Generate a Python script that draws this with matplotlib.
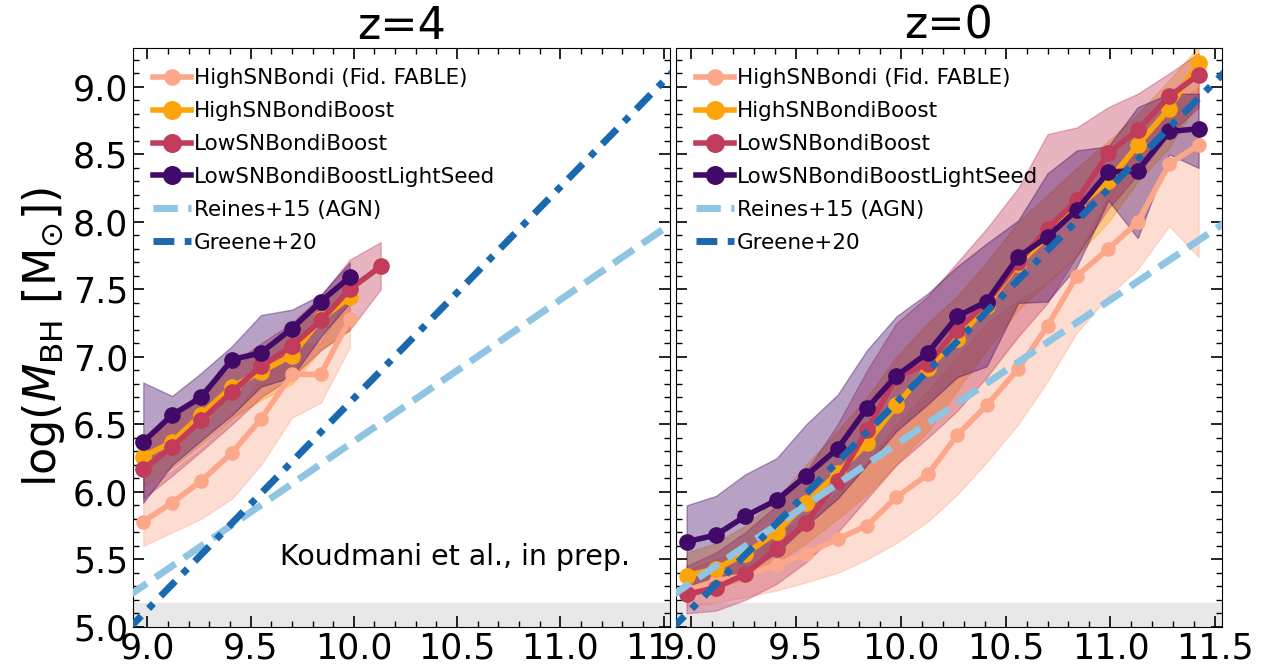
import matplotlib
matplotlib.use("Agg")
import matplotlib.pyplot as plt
from matplotlib.ticker import MultipleLocator
from matplotlib.transforms import Bbox, TransformedBbox

# stellar mass bins (log M*)
x_z4 = [8.98, 9.12, 9.26, 9.41, 9.55, 9.70, 9.84, 9.98, 10.13]
x_z0 = [8.98, 9.12, 9.26, 9.41, 9.55, 9.70, 9.84, 9.98, 10.13,
        10.27, 10.41, 10.56, 10.70, 10.84, 10.99, 11.13, 11.28, 11.42]

labels = ["HighSNBondi (Fid. FABLE)", "HighSNBondiBoost",
          "LowSNBondiBoost", "LowSNBondiBoostLightSeed"]
colors = ["#fca68a", "#fca50a", "#c13b5b", "#420a68"]

# z=4 : median and 16-84 band
fid_z4 = [5.78, 5.92, 6.08, 6.29, 6.54, 6.87, 6.87, 7.28]
fid_z4_lo = [5.60, 5.70, 5.80, 5.95, 6.20, 6.55, 6.66, 7.07]
fid_z4_hi = [6.05, 6.15, 6.32, 6.55, 6.85, 7.10, 7.10, 7.50]
hboost_z4 = [6.26, 6.37, 6.57, 6.78, 6.89, 7.01, 7.28, 7.44]
hboost_z4_lo = [6.05, 6.18, 6.35, 6.55, 6.68, 6.80, 7.05, 7.20]
hboost_z4_hi = [6.40, 6.55, 6.72, 6.92, 7.05, 7.18, 7.42, 7.62]
lboost_z4 = [6.17, 6.33, 6.53, 6.74, 6.93, 7.08, 7.27, 7.50, 7.67]
lboost_z4_lo = [5.95, 6.12, 6.30, 6.50, 6.70, 6.85, 7.05, 7.20, 7.50]
lboost_z4_hi = [6.40, 6.55, 6.75, 6.95, 7.10, 7.25, 7.45, 7.72, 7.85]
seed_z4 = [6.37, 6.57, 6.70, 6.98, 7.03, 7.21, 7.41, 7.59]
seed_z4_lo = [5.92, 6.20, 6.38, 6.57, 6.78, 6.85, 7.15, 7.40]
seed_z4_hi = [6.81, 6.71, 6.88, 7.08, 7.31, 7.35, 7.46, 7.70]

# z=0
fid_z0 = [5.27, 5.34, 5.38, 5.46, 5.54, 5.65, 5.75, 5.96, 6.13,
          6.42, 6.64, 6.91, 7.23, 7.60, 7.80, 8.00, 8.43, 8.57]
fid_z0_lo = [5.15, 5.18, 5.22, 5.27, 5.33, 5.40, 5.50, 5.62, 5.78,
             5.98, 6.22, 6.50, 6.82, 7.18, 7.45, 7.65, 7.97, 7.74]
fid_z0_hi = [5.42, 5.50, 5.58, 5.68, 5.82, 6.00, 6.22, 6.50, 6.75,
             7.00, 7.25, 7.42, 7.55, 7.75, 8.20, 8.55, 8.85, 9.00]
hboost_z0 = [5.38, 5.43, 5.54, 5.70, 5.92, 6.14, 6.36, 6.64, 6.92,
             7.13, 7.38, 7.69, 7.89, 8.11, 8.30, 8.57, 8.84, 9.18]
hboost_z0_lo = [5.22, 5.28, 5.36, 5.48, 5.62, 5.80, 5.98, 6.20, 6.45,
                6.75, 7.05, 7.35, 7.55, 7.75, 8.00, 8.30, 8.55, 8.90]
hboost_z0_hi = [5.55, 5.62, 5.75, 5.95, 6.20, 6.45, 6.70, 7.00, 7.25,
                7.45, 7.70, 8.00, 8.20, 8.40, 8.60, 8.80, 9.05, 9.30]
lboost_z0 = [5.24, 5.29, 5.39, 5.58, 5.77, 6.08, 6.46, 6.85, 6.95,
             7.20, 7.40, 7.70, 7.95, 8.16, 8.51, 8.68, 8.93, 9.09]
lboost_z0_lo = [5.10, 5.12, 5.20, 5.32, 5.48, 5.70, 5.95, 6.20, 6.40,
                6.60, 6.85, 7.15, 7.40, 7.75, 8.10, 8.35, 8.65, 8.85]
lboost_z0_hi = [5.45, 5.55, 5.70, 5.90, 6.15, 6.50, 6.90, 7.25, 7.45,
                7.70, 7.95, 8.25, 8.65, 8.70, 8.85, 8.95, 9.10, 9.25]
seed_z0 = [5.63, 5.68, 5.82, 5.94, 6.12, 6.32, 6.62, 6.86, 7.03,
           7.30, 7.41, 7.74, 7.89, 8.09, 8.37, 8.38, 8.67, 8.69]
seed_z0_lo = [5.25, 5.30, 5.40, 5.55, 5.75, 5.95, 6.20, 6.45, 6.65,
              6.85, 6.93, 7.40, 7.41, 7.67, 8.16, 7.88, 8.50, 8.40]
seed_z0_hi = [5.90, 5.97, 6.13, 6.25, 6.50, 6.72, 7.05, 7.30, 7.47,
              7.67, 7.84, 8.01, 8.36, 8.53, 8.56, 8.85, 8.95, 8.95]

reines_x = [8.9, 11.55]
reines_y = [5.22, 8.00]
greene_x = [8.9, 11.55]
greene_y = [4.97, 9.12]

z4_runs = [(x_z4[:8], fid_z4, fid_z4_lo, fid_z4_hi),
           (x_z4[:8], hboost_z4, hboost_z4_lo, hboost_z4_hi),
           (x_z4, lboost_z4, lboost_z4_lo, lboost_z4_hi),
           (x_z4[:8], seed_z4, seed_z4_lo, seed_z4_hi)]
z0_runs = [(x_z0, fid_z0, fid_z0_lo, fid_z0_hi),
           (x_z0, hboost_z0, hboost_z0_lo, hboost_z0_hi),
           (x_z0, lboost_z0, lboost_z0_lo, lboost_z0_hi),
           (x_z0, seed_z0, seed_z0_lo, seed_z0_hi)]


def draw_panel(ax, runs, title):
    ax.axhspan(5.0, 5.18, color="#e8e8e8", zorder=0)
    for i, (x, y, lo, hi) in enumerate(runs):
        ax.fill_between(x, lo, hi, color=colors[i], alpha=0.38, lw=1, zorder=1)
    for i, (x, y, lo, hi) in enumerate(runs):
        ms = 9.5 if i == 0 else 11
        ax.plot(x, y, "-o", color=colors[i], lw=4, ms=ms, label=labels[i], zorder=3)
    ax.plot(reines_x, reines_y, color="#8fc4e2", lw=5, ls=(0, (3.5, 1.5)),
            label="Reines+15 (AGN)", zorder=4)
    ax.plot(greene_x, greene_y, color="#1a69b0", lw=5, ls=(0, (3, 1.5, 1, 1.5)),
            label="Greene+20", zorder=4)

    ax.set_xlim(8.93, 11.53)
    ax.set_ylim(5.0, 9.29)
    ax.xaxis.set_major_locator(MultipleLocator(0.5))
    ax.xaxis.set_minor_locator(MultipleLocator(0.1))
    ax.yaxis.set_major_locator(MultipleLocator(0.5))
    ax.yaxis.set_minor_locator(MultipleLocator(0.1))
    ax.tick_params(which="both", direction="in", top=True, right=True, labelsize=25)
    ax.tick_params(which="major", length=8, width=1.2)
    ax.tick_params(which="minor", length=4, width=1)
    ax.set_title(title, fontsize=32, pad=4)
    ax.legend(loc="upper left", fontsize=15.5, frameon=False, handlelength=1.75,
              handletextpad=0.12, labelspacing=0.6, borderaxespad=0.6,
              borderpad=0.35, markerscale=1.15)


fig = plt.figure(figsize=(12.66, 6.64), dpi=100)
ax1 = fig.add_axes([0.105, 0.056, 0.424, 0.872])
ax2 = fig.add_axes([0.534, 0.056, 0.431, 0.872])

draw_panel(ax1, z4_runs, "z=4")
draw_panel(ax2, z0_runs, "z=0")
ax2.set_yticklabels([])

ax1.set_ylabel(r"log($M_{\rm BH}$ [M$_{\odot}$])", fontsize=32, labelpad=4)
ax1.text(0.6, 0.12, "Koudmani et al., in prep.", transform=ax1.transAxes,
         fontsize=20.5, ha="center", va="center")

# the last x label of the left panel is cut at the panel edge
fig.canvas.draw()
clip = TransformedBbox(Bbox([[0, 0], [0.529, 1]]), fig.transFigure)
for lab in ax1.get_xticklabels():
    lab.set_clip_box(clip)
    lab.set_clip_on(True)

fig.savefig("out.png", dpi=100)
